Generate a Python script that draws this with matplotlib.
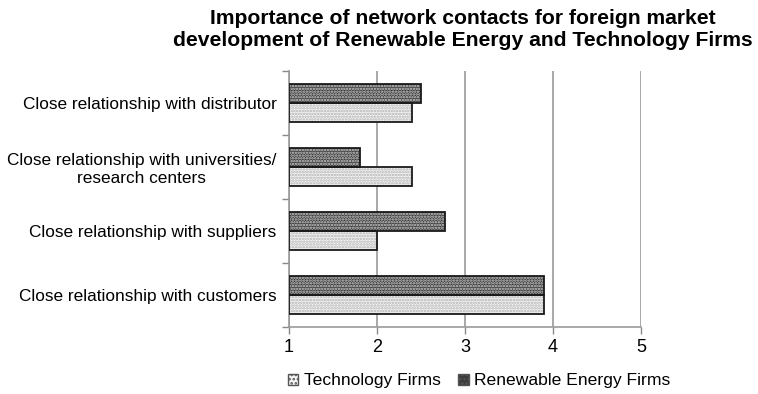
import matplotlib.pyplot as plt
import matplotlib.patches as mpatches
import numpy as np

plt.rcParams['font.family'] = ['Liberation Sans', 'DejaVu Sans']
plt.rcParams['hatch.linewidth'] = 1.2

# data (bottom to top)
categories = ['Close relationship with customers',
              'Close relationship with suppliers',
              'Close relationship with universities/\nresearch centers',
              'Close relationship with distributor']
tech_firms = [3.9, 2.0, 2.4, 2.4]
renewable_firms = [3.9, 2.77, 1.81, 2.5]
x_ticks = [1, 2, 3, 4, 5]

fig = plt.figure(figsize=(7.58, 3.94), dpi=100)
ax = fig.add_axes([289 / 758, 1 - 327 / 394, 352 / 758, 256 / 394])

y = np.arange(len(categories)) + 0.5
h = 0.29
base = 1


def hatched_bars(ypos, vals, face, dots):
    w = np.array(vals) - base
    ax.barh(ypos, w, left=base, height=h, color=face, edgecolor='none', zorder=2)
    ax.barh(ypos, w, left=base, height=h, color='none', edgecolor=dots,
            hatch='......', linewidth=0, zorder=3)
    ax.barh(ypos, w, left=base, height=h, color='none', edgecolor='#1a1a1a',
            linewidth=1.3, zorder=4)


hatched_bars(y + h / 2, renewable_firms, '#3c3c3c', '#cfcfcf')   # renewable: dark checker
hatched_bars(y - h / 2, tech_firms, '#f4f4f4', '#b0b0b0')        # technology: light dotted

ax.set_xlim(1, 5)
ax.set_ylim(0, len(categories))
ax.set_xticks(x_ticks)
ax.set_xticklabels([str(t) for t in x_ticks], fontsize=13)
ax.xaxis.grid(True, color='#9a9a9a', linewidth=1.2, zorder=1)
ax.set_axisbelow(True)

ax.set_yticks(np.arange(len(categories) + 1))
ax.set_yticklabels([])
ax.set_yticks(y, minor=True)
ax.set_yticklabels(categories, minor=True, fontsize=12.4)
for lab in ax.get_yticklabels(minor=True):
    lab.set_multialignment('center')
ax.tick_params(axis='y', which='minor', length=0, pad=9)
ax.tick_params(axis='y', which='major', length=5, color='#888888', width=1)
ax.tick_params(axis='x', length=5, color='#888888', width=1, pad=4)

for s in ['top', 'right']:
    ax.spines[s].set_visible(False)
for s in ['left', 'bottom']:
    ax.spines[s].set_color('#999999')
    ax.spines[s].set_linewidth(1.2)

fig.text(463 / 758, 1 - 29 / 394,
         'Importance of network contacts for foreign market\n'
         'development of Renewable Energy and Technology Firms',
         ha='center', va='center', fontsize=15.2, fontweight='bold', linespacing=1.2)

tech_patch = mpatches.Patch(facecolor='#f4f4f4', edgecolor='#555555', hatch='....', label='Technology Firms')
ren_patch = mpatches.Patch(facecolor='#3c3c3c', edgecolor='#555555', hatch='....', label='Renewable Energy Firms')
fig.legend(handles=[tech_patch, ren_patch], loc='center', bbox_to_anchor=(479 / 758, 1 - 381 / 394),
           ncol=2, frameon=False, fontsize=12.6, handlelength=0.6, handleheight=0.6,
           handletextpad=0.3, columnspacing=1.0)

fig.savefig('out.png', dpi=100)
